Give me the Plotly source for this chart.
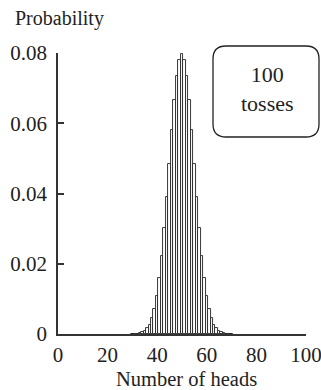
import plotly.graph_objects as go

# Data: probability of k heads in 100 tosses
heads = list(range(30, 71))
probability = [
    0.00002, 0.00005, 0.0001, 0.0002, 0.0005, 0.0009, 0.0016, 0.0027, 0.0045, 0.0071,
    0.0108, 0.0159, 0.0223, 0.0301, 0.0390, 0.0485, 0.0580, 0.0666, 0.0735, 0.0780,
    0.0796,
    0.0780, 0.0735, 0.0666, 0.0580, 0.0485, 0.0390, 0.0301, 0.0223, 0.0159, 0.0108,
    0.0071, 0.0045, 0.0027, 0.0016, 0.0009, 0.0005, 0.0002, 0.0001, 0.00005, 0.00002,
]
x_ticks = [0, 20, 40, 60, 80, 100]
y_ticks = [0, 0.02, 0.04, 0.06, 0.08]
y_tick_labels = ["0", "0.02", "0.04", "0.06", "0.08"]

W, H = 321, 390
L, R, T, B = 58, 15, 53, 56
FONT = "Liberation Serif, Times New Roman, serif"
INK = "#222222"

pw = W - L - R
ph = H - T - B


def px(x):
    return (x - L) / pw


def py(y):
    return (H - B - y) / ph


fig = go.Figure(
    go.Bar(
        x=heads,
        y=probability,
        width=1,
        marker=dict(color="white", line=dict(color=INK, width=0.9)),
        showlegend=False,
        hoverinfo="skip",
    )
)

# rounded box
x0, x1, y0, y1, r = 213, 319, 46, 137, 13
path = (
    f"M {px(x0 + r)} {py(y0)} L {px(x1 - r)} {py(y0)} "
    f"Q {px(x1)} {py(y0)} {px(x1)} {py(y0 + r)} "
    f"L {px(x1)} {py(y1 - r)} "
    f"Q {px(x1)} {py(y1)} {px(x1 - r)} {py(y1)} "
    f"L {px(x0 + r)} {py(y1)} "
    f"Q {px(x0)} {py(y1)} {px(x0)} {py(y1 - r)} "
    f"L {px(x0)} {py(y0 + r)} "
    f"Q {px(x0)} {py(y0)} {px(x0 + r)} {py(y0)} Z"
)
fig.add_shape(type="path", xref="paper", yref="paper", path=path,
              line=dict(color=INK, width=1.3))

fig.add_annotation(xref="paper", yref="paper", x=px(267), y=py(89),
                   text="100<br>tosses", showarrow=False,
                   font=dict(family=FONT, size=22, color=INK),
                   xanchor="center", yanchor="middle")
fig.add_annotation(xref="paper", yref="paper", x=px(13), y=py(18),
                   text="Probability", showarrow=False,
                   font=dict(family=FONT, size=20, color=INK),
                   xanchor="left", yanchor="middle")
fig.add_annotation(xref="paper", yref="paper", x=px(186), y=py(379),
                   text="Number of heads", showarrow=False,
                   font=dict(family=FONT, size=20.5, color=INK),
                   xanchor="center", yanchor="middle")

fig.update_layout(
    width=W, height=H, autosize=False,
    margin=dict(l=L, r=R, t=T, b=B),
    paper_bgcolor="white", plot_bgcolor="white",
    bargap=0,
    font=dict(family=FONT, size=20, color=INK),
)
fig.update_xaxes(range=[0, 100], tickvals=x_ticks, ticks="", showgrid=False,
                 zeroline=False, showline=True, linecolor="#333333", linewidth=1.5,
                 tickfont=dict(size=21), ticklabelstandoff=1, automargin=False,
                 ticklabeloverflow="allow")
fig.update_yaxes(range=[0, 0.08], tickvals=y_ticks, ticktext=y_tick_labels,
                 ticks="inside", ticklen=6, tickcolor="#333333", tickwidth=1.5,
                 showgrid=False, zeroline=False, showline=True,
                 linecolor="#333333", linewidth=1.5, tickfont=dict(size=21),
                 ticklabelstandoff=5, automargin=False, ticklabeloverflow="allow")

fig.write_html(
    "out.html",
    config={"displayModeBar": False, "responsive": False},
    post_script="document.body.style.margin='0';document.body.style.overflow='hidden';",
)
